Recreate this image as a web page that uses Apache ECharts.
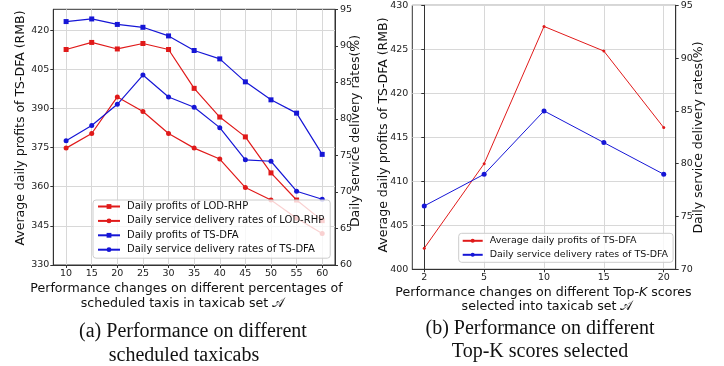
<!DOCTYPE html>
<html>
<head>
<meta charset="utf-8">
<script src="https://cdn.jsdelivr.net/npm/echarts@6/dist/echarts.min.js"></script>
<style>
  html, body { margin: 0; padding: 0; background: #fff; }
  #main { width: 724px; height: 366px; }
</style>
</head>
<body>
<div id="main"></div>
<script>
// (a) percentages of scheduled taxis
const pct = [10, 15, 20, 25, 30, 35, 40, 45, 50, 55, 60];
const lodProfit = [412.6, 415.3, 412.8, 414.9, 412.6, 397.7, 386.7, 379.1, 365.3, 354.9, 347.0];
const lodRate = [76.0, 78.0, 83.0, 81.0, 78.0, 76.0, 74.5, 70.6, 68.9, 66.4, 64.3];
const tsProfit = [423.3, 424.3, 422.2, 421.1, 417.8, 412.2, 409.0, 400.2, 393.3, 388.2, 372.4];
const tsRate = [77.0, 79.1, 82.0, 86.0, 83.0, 81.6, 78.8, 74.4, 74.2, 70.1, 69.0];

// (b) top-K scores
const topK = ['2', '5', '10', '15', '20'];
const topkProfit = [402.4, 412.0, 427.6, 424.8, 416.1];
const topkRate = [76.0, 79.0, 85.0, 82.0, 79.0];

const profitTicksA = [330, 345, 360, 375, 390, 405, 420];
const profitTicksB = [400, 405, 410, 415, 420, 425, 430];

const RED = '#e01a1a';
const BLUE = '#1616d6';
const FONT = '"DejaVu Sans", sans-serif';
const AXIS = '#333';
const GRID = '#d8d8d8';

const chart = echarts.init(document.getElementById('main'), null, { renderer: 'canvas' });

function pairs(xs, ys) {
  return xs.map((x, i) => [x, ys[i]]);
}

function lineSeries(name, xi, yi, data, color, symbol, size, width) {
  return {
    name: name,
    type: 'line',
    xAxisIndex: xi,
    yAxisIndex: yi,
    data: data,
    symbol: symbol,
    symbolSize: size,
    lineStyle: { color: color, width: width },
    itemStyle: { color: color },
    emphasis: { disabled: true }
  };
}

const tickLabel = { fontFamily: FONT, fontSize: 9.5, color: '#222' };

function yName(text, x, y) {
  return {
    type: 'text', x: x, y: y, rotation: Math.PI / 2,
    style: { text: text, font: '12.5px ' + FONT, fill: '#111', textAlign: 'center', textVerticalAlign: 'middle' }
  };
}

function plain(text, x, y, font) {
  return {
    type: 'text', x: x, y: y,
    style: { text: text, font: font, fill: '#111', textAlign: 'center', textVerticalAlign: 'middle' }
  };
}

const option = {
  animation: false,
  grid: [
    { left: 53.3, right: 724 - 335, top: 9.3, bottom: 366 - 265, show: true, borderColor: AXIS, borderWidth: 1 },
    { left: 412.3, right: 724 - 675.7, top: 5.3, bottom: 366 - 269.3, show: true, borderColor: AXIS, borderWidth: 1 }
  ],
  xAxis: [
    {
      type: 'value', gridIndex: 0, min: 7.5, max: 62.5,
      axisLine: { lineStyle: { color: AXIS } },
      axisTick: { customValues: pct, length: 3, lineStyle: { color: AXIS } },
      axisLabel: Object.assign({ customValues: pct, margin: 4 }, tickLabel),
      splitLine: { show: true, lineStyle: { color: GRID, width: 1 } }
    },
    {
      type: 'value', gridIndex: 1, min: -0.2, max: 4.2,
      axisLine: { lineStyle: { color: AXIS } },
      axisTick: { customValues: [0, 1, 2, 3, 4], length: 3, lineStyle: { color: AXIS } },
      axisLabel: Object.assign({ customValues: [0, 1, 2, 3, 4], margin: 3, formatter: v => topK[Math.round(v)] }, tickLabel),
      splitLine: { show: true, lineStyle: { color: GRID, width: 1 } }
    }
  ],
  yAxis: [
    {
      type: 'value', gridIndex: 0, min: 330, max: 428,
      axisLine: { show: true, lineStyle: { color: AXIS } },
      axisTick: { show: true, customValues: profitTicksA, length: 3, lineStyle: { color: AXIS } },
      axisLabel: Object.assign({ customValues: profitTicksA, margin: 4 }, tickLabel),
      splitLine: { show: true, lineStyle: { color: GRID, width: 1 } }
    },
    {
      type: 'value', gridIndex: 0, position: 'right', min: 60, max: 95, interval: 5,
      axisLine: { show: true, lineStyle: { color: AXIS } },
      axisTick: { show: true, length: 3, lineStyle: { color: AXIS } },
      axisLabel: Object.assign({ margin: 5 }, tickLabel),
      splitLine: { show: false }
    },
    {
      type: 'value', gridIndex: 1, min: 400, max: 430, interval: 5,
      axisLine: { show: true, lineStyle: { color: AXIS } },
      axisTick: { show: true, length: 3, lineStyle: { color: AXIS } },
      axisLabel: Object.assign({ margin: 4 }, tickLabel),
      splitLine: { show: true, lineStyle: { color: GRID, width: 1 } }
    },
    {
      type: 'value', gridIndex: 1, position: 'right', min: 70, max: 95, interval: 5,
      axisLine: { show: true, lineStyle: { color: AXIS } },
      axisTick: { show: true, length: 3, lineStyle: { color: AXIS } },
      axisLabel: Object.assign({ margin: 5 }, tickLabel),
      splitLine: { show: false }
    }
  ],
  legend: [
    {
      orient: 'vertical', left: 93, top: 200, align: 'left',
      data: ['Daily profits of LOD-RHP', 'Daily service delivery rates of LOD-RHP',
             'Daily profits of TS-DFA', 'Daily service delivery rates of TS-DFA'],
      itemWidth: 22, itemHeight: 6, itemGap: 3.4,
      padding: [1, 6, 3, 4],
      backgroundColor: 'rgba(255,255,255,0.8)', borderColor: '#ccc', borderWidth: 1, borderRadius: 3,
      textStyle: { fontFamily: FONT, fontSize: 10, lineHeight: 11, color: '#111', padding: [0, 0, 0, 2] },
      selectedMode: false
    },
    {
      orient: 'vertical', left: 458.7, top: 233.3, align: 'left',
      data: ['Average daily profits of TS-DFA', 'Daily service delivery rates of TS-DFA'],
      itemWidth: 20, itemHeight: 5, itemGap: 3,
      padding: [2, 5, 2, 3],
      backgroundColor: 'rgba(255,255,255,0.8)', borderColor: '#ccc', borderWidth: 1, borderRadius: 3,
      textStyle: { fontFamily: FONT, fontSize: 9.5, lineHeight: 11, color: '#111', padding: [0, 0, 0, 2] },
      selectedMode: false
    }
  ],
  series: [
    lineSeries('Daily profits of LOD-RHP', 0, 0, pairs(pct, lodProfit), RED, 'rect', 5, 1.2),
    lineSeries('Daily service delivery rates of LOD-RHP', 0, 1, pairs(pct, lodRate), RED, 'circle', 5, 1.2),
    lineSeries('Daily profits of TS-DFA', 0, 0, pairs(pct, tsProfit), BLUE, 'rect', 5, 1.2),
    lineSeries('Daily service delivery rates of TS-DFA', 0, 1, pairs(pct, tsRate), BLUE, 'circle', 5, 1.2),
    lineSeries('Average daily profits of TS-DFA', 1, 2, pairs(topK.map((k, i) => i), topkProfit), RED, 'circle', 3, 1),
    lineSeries('Daily service delivery rates of TS-DFA', 1, 3, pairs(topK.map((k, i) => i), topkRate), BLUE, 'circle', 5, 1)
  ],
  graphic: [
    yName('Average daily profits of TS-DFA (RMB)', 21, 128),
    yName('Daily service delivery rates(%)', 356, 131),
    yName('Average daily profits of TS-DFA (RMB)', 383.5, 135),
    yName('Daily service delivery rates(%)', 698.5, 137.5),
    plain('Performance changes on different percentages of', 186.5, 288.3, '12.6px ' + FONT),
    plain('scheduled taxis in taxicab set \u{1D49C}', 182.5, 303.3, '12.6px ' + FONT),
    {
      type: 'text', x: 543.5, y: 292.3,
      style: {
        text: 'Performance changes on different Top-{i|K} scores',
        font: '12.6px ' + FONT, fill: '#111', textAlign: 'center', textVerticalAlign: 'middle',
        rich: { i: { fontStyle: 'italic', fontFamily: FONT, fontSize: 12.6, fill: '#111' } }
      }
    },
    plain('selected into taxicab set \u{1D49C}', 547, 306.7, '12.6px ' + FONT),
    plain('(a) Performance on different', 193, 331.7, '20px "Liberation Serif", serif'),
    plain('scheduled taxicabs', 184, 355.5, '20px "Liberation Serif", serif'),
    plain('(b) Performance on different', 540, 328.3, '20px "Liberation Serif", serif'),
    plain('Top-K scores selected', 540, 351.7, '20px "Liberation Serif", serif')
  ]
};

chart.setOption(option);
</script>
</body>
</html>
